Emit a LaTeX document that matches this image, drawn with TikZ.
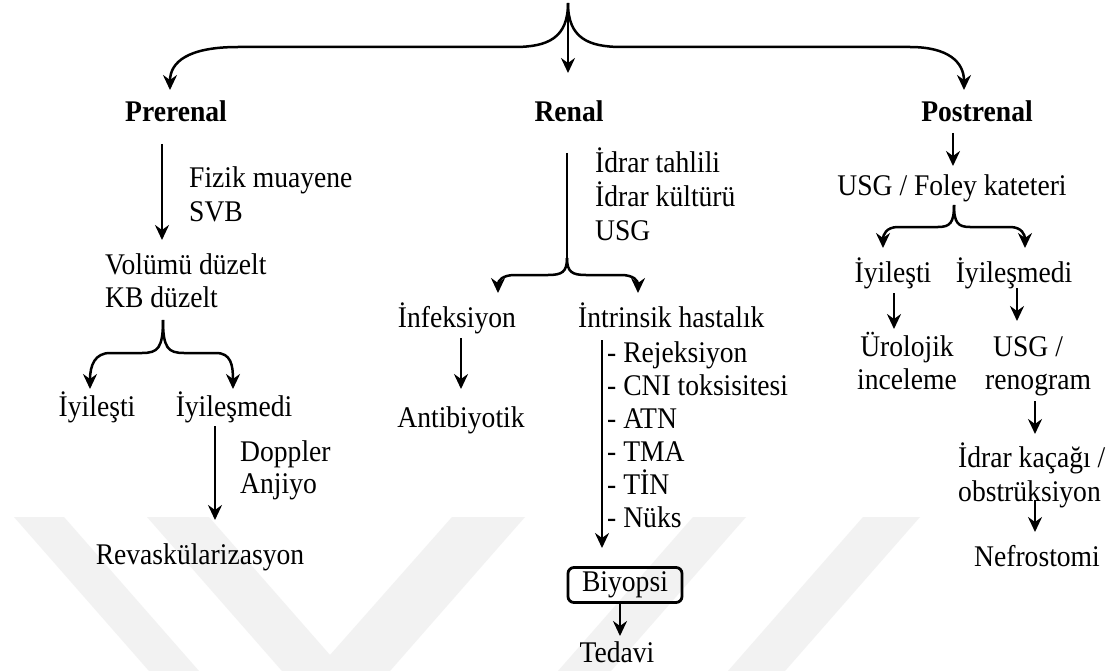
\documentclass[tikz,border=0pt]{standalone}
\usepackage{fontspec}
\setmainfont[FakeStretch=0.92]{Liberation Serif}
\usetikzlibrary{arrows.meta}
\begin{document}
\begin{tikzpicture}[x=1pt,y=-1pt,
  txt/.style={inner sep=0pt, font=\fontsize{30}{34}\selectfont},
  hd/.style={inner sep=0pt, font=\fontsize{30}{34}\selectfont\bfseries},
  tip/.style={-{Stealth[length=15pt,width=14pt,inset=5pt]}},
  arr/.style={line width=2.5pt, tip},
  brc/.style={line width=2.5pt, tip},
  wm/.style={fill=black!5, draw=none}]
\useasboundingbox (0,0) rectangle (1110,671);
\fill[white] (0,0) rectangle (1110,671);
% watermark
\fill[wm] (14,517) -- (64,517) -- (199,671) -- (149,671) -- cycle;
\fill[wm] (147,517) -- (209,517) -- (330,655) -- (452,517) -- (525,517) -- (390,671) -- (282,671) -- cycle;
\fill[wm] (693,517) -- (746,517) -- (611,671) -- (558,671) -- cycle;
\fill[wm] (863,517) -- (920,517) -- (785,671) -- (728,671) -- cycle;

% headers
\node[hd, anchor=base] (prer) at (176,122) {Prerenal};
\node[hd, anchor=base] (ren) at (569,122) {Renal};
\node[hd, anchor=base] (post) at (977,122) {Postrenal};

% top brace
\coordinate (t0) at (568,3);
\coordinate (tl) at (170,90);
\coordinate (tc) at (568,73);
\coordinate (tr) at (964,90);
\draw[brc] (t0) .. controls (568,38) and (548,47) .. (514,47) -- (238,47) .. controls (188,47) and (170,62) .. (tl);
\draw[brc] (t0) .. controls (568,38) and (588,47) .. (622,47) -- (910,47) .. controls (948,47) and (964,62) .. (tr);
\draw[arr] (t0) -- (tc);

% Prerenal column
\coordinate (p1a) at (162,144);
\coordinate (p1b) at (162,240);
\draw[arr] (p1a) -- (p1b);
\node[txt, anchor=base west] (fm1) at (189,187) {Fizik muayene};
\node[txt, anchor=base west] (fm2) at (189,221) {SVB};
\node[txt, anchor=base west] (vol1) at (105,274) {Volümü düzelt};
\node[txt, anchor=base west] (vol2) at (105,307) {KB düzelt};
\coordinate (b1t) at (163,320);
\coordinate (b1l) at (90,389);
\coordinate (b1r) at (233,389);
\draw[brc] (b1t) .. controls (163,348) and (158,353) .. (142,353) -- (110,353) .. controls (95,353) and (90,365) .. (b1l);
\draw[brc] (b1t) .. controls (163,348) and (168,353) .. (184,353) -- (216,353) .. controls (231,353) and (233,365) .. (b1r);
\node[txt, anchor=base] (iy1) at (97,416) {İyileşti};
\node[txt, anchor=base] (iym1) at (234,416) {İyileşmedi};
\coordinate (p2a) at (215,426);
\coordinate (p2b) at (215,520);
\draw[arr] (p2a) -- (p2b);
\node[txt, anchor=base west] (dop1) at (240,461) {Doppler};
\node[txt, anchor=base west] (dop2) at (240,493) {Anjiyo};
\node[txt, anchor=base] (rev) at (200,564) {Revaskülarizasyon};

% Renal column
\node[txt, anchor=base west] (it1) at (595,173) {İdrar tahlili};
\node[txt, anchor=base west] (it2) at (595,206) {İdrar kültürü};
\node[txt, anchor=base west] (it3) at (595,240) {USG};
\coordinate (r1t) at (567,153);
\coordinate (r1m) at (567,258);
\coordinate (r1l) at (498,293);
\coordinate (r1r) at (638,293);
\draw[line width=2.5pt] (r1t) -- (r1m);
\draw[brc] (r1m) .. controls (567,272) and (562,275) .. (548,275) -- (515,275) .. controls (502,275) and (498,281) .. (r1l);
\draw[brc] (r1m) .. controls (567,272) and (572,275) .. (586,275) -- (621,275) .. controls (634,275) and (638,281) .. (r1r);
\node[txt, anchor=base] (inf) at (457,327) {İnfeksiyon};
\node[txt, anchor=base west] (intr) at (578,327) {İntrinsik hastalık};
\coordinate (r2a) at (461,338);
\coordinate (r2b) at (461,389);
\draw[arr] (r2a) -- (r2b);
\node[txt, anchor=base] (anti) at (461,427) {Antibiyotik};
\coordinate (r3a) at (602,340);
\coordinate (r3b) at (602,548);
\draw[arr] (r3a) -- (r3b);
\node[txt, anchor=base west] (l1) at (607,362) {- Rejeksiyon};
\node[txt, anchor=base west] (l2) at (607,395) {- CNI toksisitesi};
\node[txt, anchor=base west] (l3) at (607,428) {- ATN};
\node[txt, anchor=base west] (l4) at (607,461) {- TMA};
\node[txt, anchor=base west] (l5) at (607,494) {- TİN};
\node[txt, anchor=base west] (l6) at (607,527) {- Nüks};
\node[txt, draw, line width=2.8pt, rounded corners=6pt, minimum width=114pt, minimum height=35pt] (bio) at (625,585) {Biyopsi};
\node[txt, anchor=base] (ted) at (617,662) {Tedavi};
\draw[arr] (bio.south -| 620,0) -- (620,636) coordinate (tedin);

% Postrenal column
\coordinate (q1a) at (953,133);
\coordinate (q1b) at (953,166);
\draw[arr] (q1a) -- (q1b);
\node[txt, anchor=base] (usgf) at (952,196) {USG / Foley kateteri};
\coordinate (q2t) at (954,205);
\coordinate (q2l) at (883,248);
\coordinate (q2r) at (1025,248);
\draw[brc] (q2t) .. controls (954,223) and (950,227) .. (938,227) -- (898,227) .. controls (886,227) and (883,235) .. (q2l);
\draw[brc] (q2t) .. controls (954,223) and (958,227) .. (970,227) -- (1010,227) .. controls (1022,227) and (1025,235) .. (q2r);
\node[txt, anchor=base] (piy) at (893,282) {İyileşti};
\node[txt, anchor=base] (piym) at (1014,282) {İyileşmedi};
\coordinate (q3a) at (894,293);
\coordinate (q3b) at (894,329);
\draw[arr] (q3a) -- (q3b);
\coordinate (q4a) at (1017,288);
\coordinate (q4b) at (1017,321);
\draw[arr] (q4a) -- (q4b);
\node[txt, anchor=base] (uro1) at (907,356) {Ürolojik};
\node[txt, anchor=base] (uro2) at (907,389) {inceleme};
\node[txt, anchor=base west] (rg1) at (993,356) {USG /};
\node[txt, anchor=base west] (rg2) at (985,389) {renogram};
\coordinate (q5a) at (1035,401);
\coordinate (q5b) at (1035,434);
\draw[arr] (q5a) -- (q5b);
\node[txt, anchor=base west] (ik1) at (958,467) {İdrar kaçağı /};
\node[txt, anchor=base west] (ik2) at (958,501) {obstrüksiyon};
\coordinate (q6a) at (1035,500);
\coordinate (q6b) at (1035,532);
\draw[arr] (q6a) -- (q6b);
\node[txt, anchor=base] (nef) at (1037,566) {Nefrostomi};
\end{tikzpicture}
\end{document}
